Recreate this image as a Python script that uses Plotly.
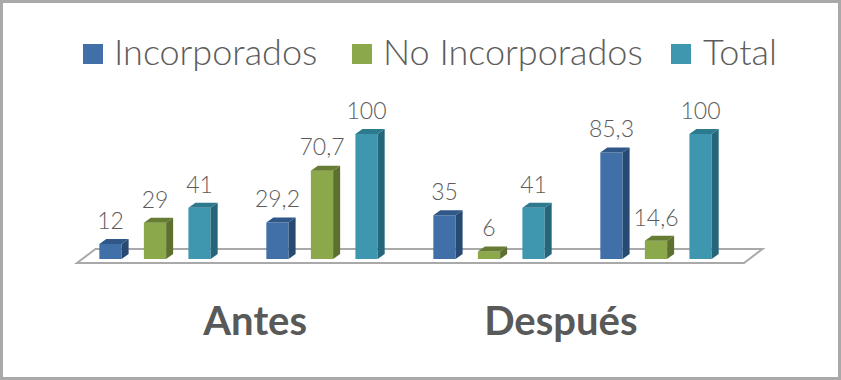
import plotly.graph_objects as go

groups = [0, 1, 2, 3]
tick_labels = ["Antes", "Después"]
series_names = ["Incorporados", "No Incorporados", "Total"]
incorporados = [12, 29.2, 35, 85.3]
no_incorporados = [29, 70.7, 6, 14.6]
total = [41, 100, 41, 100]
label_incorporados = ["12", "29,2", "35", "85,3"]
label_no_incorporados = ["29", "70,7", "6", "14,6"]
label_total = ["41", "100", "41", "100"]

W, H = 841, 380
PX_X = 167.0      # px per group
PX_Y = 1.25       # px per value unit
X0_PX, Y0_PX = 155.0, 259.0
BOTTOM_PX = 272.0
DX, DY = 7 / PX_X, 5 / PX_Y   # depth of the 3D bars in data units
LABEL_LIFT = 9.5 / PX_Y
STEP = 0.8 / 3
HALF = 0.4 / 3 / 2

front = ["#4170a8", "#8ba84b", "#3e97ae"]
side = ["#274a72", "#5d7030", "#25667a"]
top = ["#2f5787", "#667c32", "#2d7a8f"]
label_color = "#5c5c5c"
series = [incorporados, no_incorporados, total]
labels = [label_incorporados, label_no_incorporados, label_total]


def py(px):
    return (BOTTOM_PX - px) / BOTTOM_PX


fig = go.Figure()

for i, vals in enumerate(series):
    fig.add_trace(go.Bar(x=groups, y=vals, name=series_names[i],
                         marker=dict(color=front[i], line_width=0),
                         showlegend=False))

for i, vals in enumerate(series):
    offset = (i - 1) * STEP
    for g, v in zip(groups, vals):
        xr = g + offset + HALF
        xl = g + offset - HALF
        fig.add_trace(go.Scatter(
            x=[xr, xr + DX, xr + DX, xr, xr], y=[0, DY, v + DY, v, 0],
            mode="lines", line=dict(width=0), fill="toself", fillcolor=side[i],
            showlegend=False, hoverinfo="skip"))
        fig.add_trace(go.Scatter(
            x=[xl, xr, xr + DX, xl + DX, xl], y=[v, v, v + DY, v + DY, v],
            mode="lines", line=dict(width=0), fill="toself", fillcolor=top[i],
            showlegend=False, hoverinfo="skip"))
    fig.add_trace(go.Scatter(
        x=[g + offset for g in groups],
        y=[v + LABEL_LIFT for v in vals],
        text=labels[i], mode="text", textposition="top center",
        textfont=dict(family="Lato", size=23, color=label_color, weight=300),
        showlegend=False, hoverinfo="skip"))

# floor of the 3D chart
floor_l = (77 - X0_PX) / PX_X
floor_r = (744 - X0_PX) / PX_X
floor_front = -4 / PX_Y
floor_back = 10 / PX_Y
floor_dx = 18.5 / PX_X
floor_path = (f"M{floor_l},{floor_front} L{floor_r},{floor_front} "
              f"L{floor_r + floor_dx},{floor_back} L{floor_l + floor_dx},{floor_back} Z")

shapes = [
    dict(type="rect", xref="paper", yref="paper", x0=1.5 / W, x1=1 - 1.5 / W,
         y0=py(H - 1.5), y1=py(1.5), line=dict(color="#a9a9a9", width=3), layer="below"),
    dict(type="path", xref="x", yref="y", path=floor_path,
         line=dict(color="#a9a9a9", width=2), layer="below"),
]
annotations = []
legend_items = [(83, 112), (352, 381), (671, 701)]
for i, (sq, tx) in enumerate(legend_items):
    shapes.append(dict(type="rect", xref="paper", yref="paper", layer="above",
                       x0=sq / W, x1=(sq + 20) / W, y0=py(64), y1=py(44),
                       fillcolor=front[i], line_width=0))
    annotations.append(dict(text=series_names[i], xref="paper", yref="paper",
                            x=tx / W, y=py(51), xanchor="left", yanchor="middle",
                            showarrow=False,
                            font=dict(family="Lato", size=36, color=label_color, weight=300)))

fig.update_layout(
    width=W, height=H, autosize=False,
    margin=dict(l=0, r=0, t=0, b=H - BOTTOM_PX, pad=0),
    paper_bgcolor="white", plot_bgcolor="rgba(0,0,0,0)",
    barmode="group", bargap=0.2, bargroupgap=0.5,
    showlegend=False, shapes=shapes, annotations=annotations,
    xaxis=dict(range=[-X0_PX / PX_X, (W - X0_PX) / PX_X], showgrid=False, zeroline=False,
               showline=False, tickmode="array", tickvals=[0.6, 2.43], ticktext=tick_labels,
               ticks="", ticklabelstandoff=22,
               tickfont=dict(family="Lato", size=40, color="#595959", weight="bold")),
    yaxis=dict(range=[-(BOTTOM_PX - Y0_PX) / PX_Y, Y0_PX / PX_Y], visible=False),
)
fig.write_html("out.html", config=dict(displayModeBar=False),
               post_script="document.body.style.margin='0';")
